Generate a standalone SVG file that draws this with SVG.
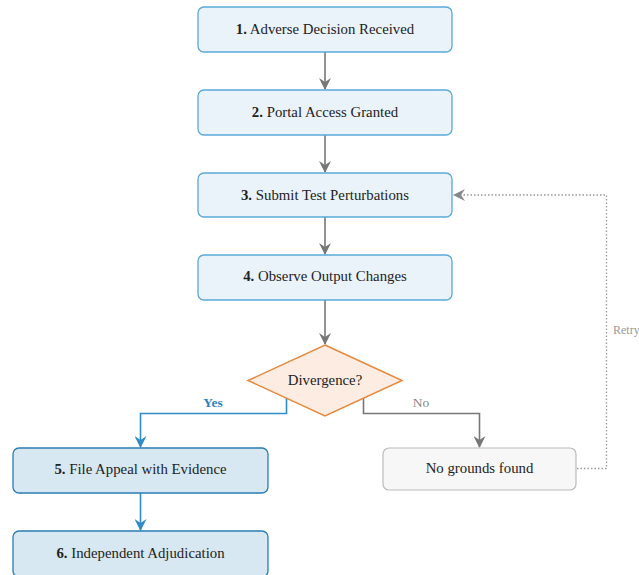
<svg xmlns="http://www.w3.org/2000/svg" width="639" height="575" viewBox="0 0 639 575">
<defs>
<marker id="ag" viewBox="0 0 12 12" refX="11" refY="6" markerWidth="12" markerHeight="12" markerUnits="userSpaceOnUse" orient="auto">
<path d="M0,0 L12,6 L0,12 L4,6 z" fill="#777"/>
</marker>
<marker id="ab" viewBox="0 0 12 12" refX="11" refY="6" markerWidth="12" markerHeight="12" markerUnits="userSpaceOnUse" orient="auto">
<path d="M0,0 L12,6 L0,12 L4,6 z" fill="#2f8cc6"/>
</marker>
<marker id="agl" viewBox="0 0 12 12" refX="11" refY="6" markerWidth="12" markerHeight="12" markerUnits="userSpaceOnUse" orient="auto">
<path d="M0,0 L12,6 L0,12 L4,6 z" fill="#888"/>
</marker>
</defs>
<style>
text{font-size:14.8px;fill:#222;text-anchor:middle}
.b{font-weight:bold}
.step rect{fill:#eaf3fa;stroke:#5aa9d8;stroke-width:1.3}
.act rect{fill:#d7e8f2;stroke:#2b7cb2;stroke-width:1.3}
.dec polygon{fill:#fcece1;stroke:#e5893e;stroke-width:1.5}
.end rect{fill:#f7f7f7;stroke:#bbbbbb;stroke-width:1.2}
.eg{fill:none;stroke:#777;stroke-width:1.6}
.eb{fill:none;stroke:#2f8cc6;stroke-width:1.6}
.ed{fill:none;stroke:#999;stroke-width:1.3;stroke-dasharray:1.5 2}
.lab{font-size:13.5px}
</style>
<g id="connectors" font-family="Liberation Serif, Times New Roman, serif">
<path class="eg" d="M325,52 V89" marker-end="url(#ag)"/>
<path class="eg" d="M325,135 V172" marker-end="url(#ag)"/>
<path class="eg" d="M325,217 V254" marker-end="url(#ag)"/>
<path class="eg" d="M325,300 V344" marker-end="url(#ag)"/>
<path class="eb" d="M286.5,398 V413.5 H140.5 V447" marker-end="url(#ab)"/>
<path class="eg" d="M363.5,398 V413.5 H479.5 V447" marker-end="url(#ag)"/>
<path class="eb" d="M140.5,493 V530" marker-end="url(#ab)"/>
<path class="ed" d="M577,468.5 H606.5 V195 H454" marker-end="url(#agl)"/>
<text class="lab b" x="213" y="407" style="fill:#2f7fba">Yes</text>
<text class="lab" x="421" y="407" style="fill:#888">No</text>
<text class="lab" x="613" y="334" style="fill:#999;text-anchor:start;font-size:12px">Retry</text>
</g>
<g font-family="Liberation Serif, Times New Roman, serif">
<g id="n1" class="step"><rect x="198" y="7" width="254" height="45" rx="6"/><text x="325" y="34"><tspan class="b">1.</tspan> Adverse Decision Received</text></g>
<g id="n2" class="step"><rect x="198" y="90" width="254" height="45" rx="6"/><text x="325" y="117"><tspan class="b">2.</tspan> Portal Access Granted</text></g>
<g id="n3" class="step"><rect x="198" y="173" width="254" height="44" rx="6"/><text x="325" y="200"><tspan class="b">3.</tspan> Submit Test Perturbations</text></g>
<g id="n4" class="step"><rect x="198" y="255" width="254" height="45" rx="6"/><text x="325" y="281"><tspan class="b">4.</tspan> Observe Output Changes</text></g>
<g id="d1" class="dec"><polygon points="325,345 402,380.5 325,416 248,380.5"/><text x="325" y="385">Divergence?</text></g>
<g id="n5" class="act"><rect x="13" y="448" width="255" height="45" rx="6"/><text x="140.5" y="474"><tspan class="b">5.</tspan> File Appeal with Evidence</text></g>
<g id="n6" class="act"><rect x="13" y="531" width="255" height="46" rx="6"/><text x="140.5" y="558"><tspan class="b">6.</tspan> Independent Adjudication</text></g>
<g id="n7" class="end"><rect x="383" y="448" width="193" height="42" rx="6"/><text x="479.5" y="473">No grounds found</text></g>
</g>
</svg>
